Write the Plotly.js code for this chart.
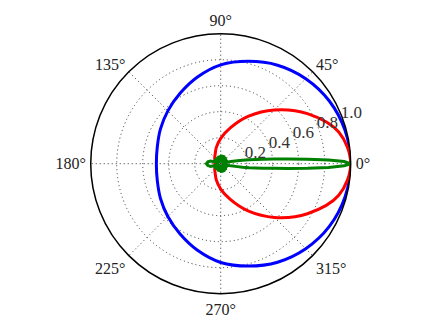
<!DOCTYPE html>
<html>
<head>
<meta charset="utf-8">
<script src="https://cdn.plot.ly/plotly-3.0.1.min.js"></script>
<style>
  html, body { margin: 0; padding: 0; background: #fff; }
  #graph { width: 432px; height: 327px; }
</style>
</head>
<body>
<div id="graph"></div>
<script>
// angles in degrees, radius
var theta_blue = [0, 15, 30, 45, 60, 75, 90, 105, 120, 135, 150, 165, 180,
                  195, 210, 225, 240, 255, 270, 285, 300, 315, 330, 345, 360];
var r_blue = [1.0, 0.99, 0.965, 0.925, 0.875, 0.815, 0.76, 0.69, 0.625, 0.575, 0.535, 0.505, 0.495,
              0.505, 0.535, 0.575, 0.625, 0.69, 0.76, 0.815, 0.875, 0.925, 0.965, 0.99, 1.0];

var theta_red = [0, 15, 30, 45, 60, 75, 90, 105, 120, 135, 150, 165, 180,
                 195, 210, 225, 240, 255, 270, 285, 300, 315, 330, 345, 360];
var r_red = [1.0, 0.94, 0.77, 0.585, 0.42, 0.285, 0.195, 0.13, 0.085, 0.065, 0.052, 0.047, 0.045,
             0.047, 0.052, 0.065, 0.085, 0.13, 0.195, 0.285, 0.42, 0.585, 0.77, 0.94, 1.0];

var theta_green = [0, 1, 2, 3, 4, 5, 6, 7, 8, 9, 10, 12, 14, 17, 22, 28, 35, 42, 50, 58, 67, 76, 85,
                   95, 105, 115, 125, 135, 145, 155, 165, 172, 180,
                   188, 195, 205, 215, 225, 235, 245, 255, 265, 275, 284, 293, 302, 310, 318, 325,
                   332, 338, 343, 346, 348, 350, 351, 352, 353, 354, 355, 356, 357, 358, 359, 360];
var r_green = [1.0, 0.95, 0.83, 0.67, 0.52, 0.41, 0.33, 0.27, 0.22, 0.17, 0.13, 0.08, 0.04, 0.01, 0.05, 0.01, 0.06, 0.01, 0.065, 0.01, 0.07, 0.01, 0.07,
               0.01, 0.065, 0.01, 0.06, 0.01, 0.06, 0.02, 0.08, 0.1, 0.11,
               0.1, 0.08, 0.02, 0.06, 0.01, 0.06, 0.01, 0.065, 0.01, 0.07, 0.01, 0.07, 0.01, 0.065, 0.01, 0.06,
               0.01, 0.05, 0.01, 0.04, 0.08, 0.13, 0.17, 0.22, 0.27, 0.33, 0.41, 0.52, 0.67, 0.83, 0.95, 1.0];

var angle_ticks = [0, 45, 90, 135, 180, 225, 270, 315];
var angle_labels = ['0°', '45°', '90°', '135°', '180°', '225°', '270°', '315°'];
var radial_ticks = [0.2, 0.4, 0.6, 0.8, 1.0];
var radial_labels = ['0.2', '0.4', '0.6', '0.8', '1.0'];
var radial_label_angle = 22.5;

var blue = {
  type: 'scatterpolar', mode: 'lines',
  theta: theta_blue, r: r_blue,
  line: {color: '#0000ff', width: 3, shape: 'spline'}
};
var red = {
  type: 'scatterpolar', mode: 'lines',
  theta: theta_red, r: r_red,
  line: {color: '#ff0000', width: 3, shape: 'spline'}
};
var green = {
  type: 'scatterpolar', mode: 'lines',
  theta: theta_green, r: r_green,
  line: {color: '#008000', width: 3}
};
// radial tick labels, matplotlib style: sitting on the 22.5° ray
var rlabels = {
  type: 'scatterpolar', mode: 'text',
  theta: radial_ticks.map(function () { return radial_label_angle; }),
  r: radial_ticks, text: radial_labels,
  textposition: 'middle right',
  textfont: {family: 'Liberation Serif, serif', size: 17, color: '#333'},
  cliponaxis: false
};

var layout = {
  width: 432, height: 327,
  margin: {l: 0, r: 0, t: 0, b: 0},
  paper_bgcolor: '#fff',
  showlegend: false,
  font: {family: 'Liberation Serif, serif', size: 16, color: '#222'},
  polar: {
    domain: {x: [0.21, 0.8118], y: [0.1018, 0.897]},
    bgcolor: '#fff',
    angularaxis: {
      rotation: 0, direction: 'counterclockwise',
      tickvals: angle_ticks, ticktext: angle_labels,
      showline: true, linecolor: '#000', linewidth: 1.5,
      gridcolor: '#333', griddash: '1px,3px', gridwidth: 1,
      ticks: 'outside', ticklen: 1, tickcolor: 'rgba(0,0,0,0)'
    },
    radialaxis: {
      range: [0, 1], angle: 22.5,
      tickvals: radial_ticks, showticklabels: false,
      showline: false, ticks: '',
      gridcolor: '#333', griddash: '1px,3px', gridwidth: 1
    }
  }
};

Plotly.newPlot('graph', [blue, red, green, rlabels], layout, {staticPlot: true});
</script>
</body>
</html>
